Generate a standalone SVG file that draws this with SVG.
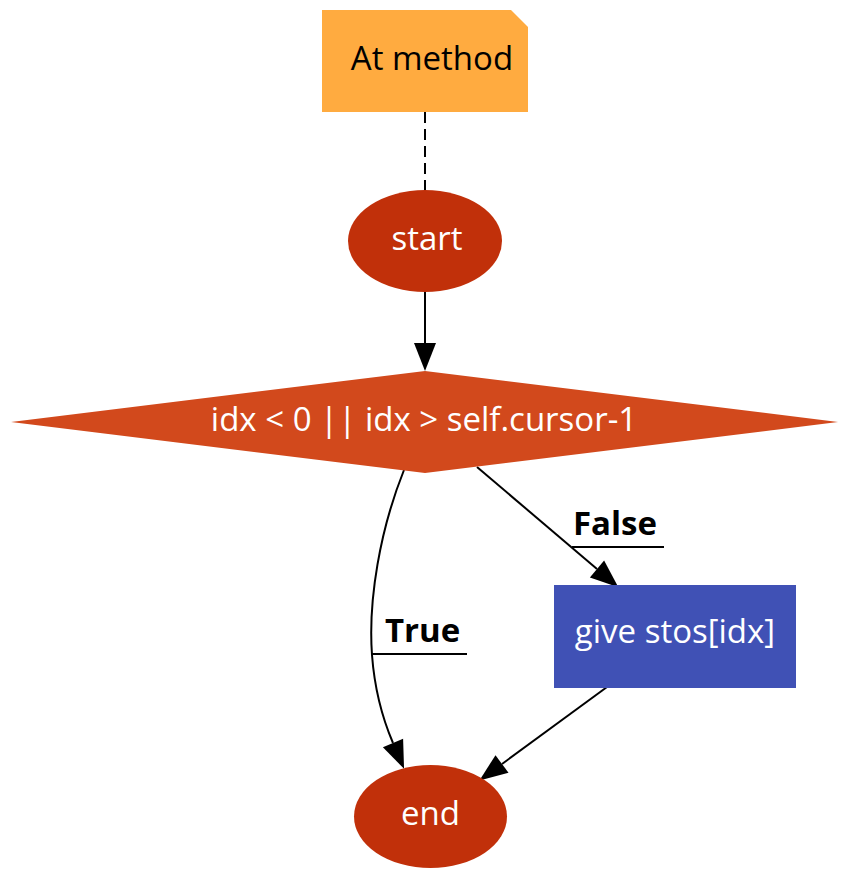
<svg xmlns="http://www.w3.org/2000/svg" width="864" height="892" viewBox="0 0 864 892">
<style>
text{font-family:"Open Sans","Noto Sans","Liberation Sans",sans-serif;font-size:33px;text-anchor:middle}
.w{fill:#ffffff}
.k{fill:#000000}
.lbl{font-weight:bold;text-anchor:start}
.e{fill:none;stroke:#000;stroke-width:2}
</style>
<defs>
<marker id="ah" markerUnits="userSpaceOnUse" markerWidth="30" markerHeight="24" refX="0" refY="11" orient="auto" overflow="visible">
<path d="M0,0 L28,11 L0,22 z" fill="#000"/>
</marker>
</defs>
<rect width="864" height="892" fill="#fff"/>
<g id="connectors">
<path class="e" d="M425,112 L425,190" stroke-dasharray="11,6"/>
<path class="e" d="M425,292 L425,343" marker-end="url(#ah)"/>
<path class="e" d="M404,470 C380,530 368,600 372,655 C375,695 384,722 393,743" marker-end="url(#ah)"/>
<path class="e" d="M477,467 L597,569" marker-end="url(#ah)"/>
<path class="e" d="M607,687 L502,764" marker-end="url(#ah)"/>
<text class="k lbl" x="385" y="642" font-size="30">True</text>
<path class="e" d="M372,654 L467,654"/>
<text class="k lbl" x="573" y="535" font-size="30">False</text>
<path class="e" d="M572,547 L664,547"/>
</g>
<g id="note">
<path d="M322,10 L511,10 L528,27 L528,112 L322,112 z" fill="#FFAB40"/>
<text class="k" x="432" y="70" font-size="32">At method</text>
</g>
<g id="start">
<ellipse cx="425" cy="241" rx="77" ry="51" fill="#C1300A"/>
<text class="w" x="427" y="250">start</text>
</g>
<g id="cond">
<polygon points="425,371 838,422 425,473 11,422" fill="#D2491C"/>
<text class="w" x="424" y="431">idx &lt; 0 || idx &gt; self.cursor-1</text>
</g>
<g id="give">
<rect x="554" y="585" width="242" height="103" fill="#4051B5"/>
<text class="w" x="675" y="643">give stos[idx]</text>
</g>
<g id="end">
<ellipse cx="430.5" cy="816.5" rx="76.5" ry="51.5" fill="#C1300A"/>
<text class="w" x="430.5" y="825">end</text>
</g>
</svg>
